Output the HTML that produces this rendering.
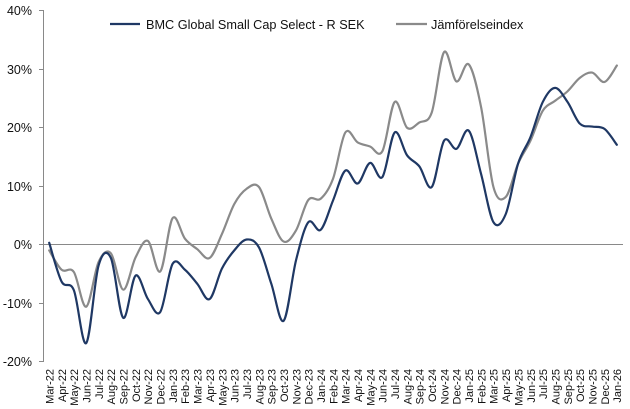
<!DOCTYPE html>
<html><head><meta charset="utf-8"><style>
html,body{margin:0;padding:0;background:#fff;}
svg{display:block;}
text{font-family:"Liberation Sans",Arial,sans-serif;fill:#111;}
</style></head><body>
<svg id="c" width="630" height="409" viewBox="0 0 630 409" xmlns="http://www.w3.org/2000/svg">
<g stroke="#898989" stroke-width="1" fill="none" shape-rendering="crispEdges">
<line x1="43.5" y1="10" x2="43.5" y2="362"/>
<line x1="39" y1="10.5" x2="43" y2="10.5"/>
<line x1="39" y1="69.5" x2="43" y2="69.5"/>
<line x1="39" y1="127.5" x2="43" y2="127.5"/>
<line x1="39" y1="186.5" x2="43" y2="186.5"/>
<line x1="39" y1="244.5" x2="623" y2="244.5"/>
<line x1="39" y1="303.5" x2="43" y2="303.5"/>
<line x1="39" y1="361.5" x2="43" y2="361.5"/>
</g>
<g font-size="12.5" text-anchor="end">
<text x="32" y="15">40%</text>
<text x="32" y="74">30%</text>
<text x="32" y="132">20%</text>
<text x="32" y="191">10%</text>
<text x="32" y="249">0%</text>
<text x="32" y="308">-10%</text>
<text x="32" y="366">-20%</text>
</g>
<g id="xl" font-size="11" text-anchor="end"></g>
<g transform="translate(49.2,244.5) scale(12.34,-5.867)" fill="none" stroke-linejoin="round" stroke-linecap="round">
<path id="gp" stroke="#8a8a8a" stroke-width="2.2" vector-effect="non-scaling-stroke" d=""/>
<path id="bp" stroke="#1f3864" stroke-width="2.2" vector-effect="non-scaling-stroke" d=""/>
</g>
<line x1="110" y1="24" x2="140" y2="24" stroke="#1f3864" stroke-width="2.2"/>
<text x="146" y="29" font-size="12.7">BMC Global Small Cap Select - R SEK</text>
<line x1="396" y1="24" x2="427" y2="24" stroke="#8a8a8a" stroke-width="2.2"/>
<text x="431" y="29" font-size="12.7">Jämförelseindex</text>
</svg>
<script>
(function(){
var blue=[0.3,-6.3,-7.8,-16.8,-3.6,-2.3,-12.5,-5.3,-9.3,-11.5,-3.3,-4.3,-6.7,-9.3,-4.1,-1.0,0.85,-0.5,-6.7,-13.0,-2.7,3.8,2.5,7.5,12.6,10.4,13.9,11.5,19.1,15.2,13.3,9.8,17.7,16.3,19.4,12.0,3.8,5.2,13.8,18.3,24.3,26.7,24.3,20.6,20.1,19.7,17.0];
var gray=[-1.0,-4.3,-4.7,-10.6,-3.0,-1.5,-7.7,-2.2,0.6,-4.6,4.5,1.0,-0.8,-2.3,1.8,6.9,9.5,9.8,4.4,0.5,2.4,7.6,7.8,11.2,19.1,17.4,16.7,15.9,24.3,19.9,20.8,22.5,32.8,27.8,30.7,23.4,9.8,8.1,13.8,17.7,22.8,24.5,26.1,28.4,29.3,27.7,30.5];
function path(v){
 var n=v.length,d="M0,"+v[0];
 for(var i=0;i<n-1;i++){
  var p0=v[i>0?i-1:i],p1=v[i],p2=v[i+1],p3=v[i+2<n?i+2:i+1];
  var x0=i>0?i-1:i,x3=i+2<n?i+2:i+1;
  var c1x=i+(i+1-x0)/6,c1y=p1+(p2-p0)/6;
  var c2x=(i+1)-(x3-i)/6,c2y=p2-(p3-p1)/6;
  d+=" C"+c1x.toFixed(3)+","+c1y.toFixed(3)+" "+c2x.toFixed(3)+","+c2y.toFixed(3)+" "+(i+1)+","+p2;
 }
 return d;
}
document.getElementById("bp").setAttribute("d",path(blue));
document.getElementById("gp").setAttribute("d",path(gray));
var m=["Jan","Feb","Mar","Apr","May","Jun","Jul","Aug","Sep","Oct","Nov","Dec"];
var g=document.getElementById("xl"),ns="http://www.w3.org/2000/svg";
for(var i=0;i<47;i++){
 var mi=(2+i)%12,yr=22+Math.floor((2+i)/12);
 var x=49.2+12.34*i+4.3;
 var t=document.createElementNS(ns,"text");
 t.setAttribute("transform","translate("+x.toFixed(2)+",369) rotate(-90)");
 t.textContent=m[mi]+"-"+yr;
 g.appendChild(t);
}
})();
</script>
</body></html>
